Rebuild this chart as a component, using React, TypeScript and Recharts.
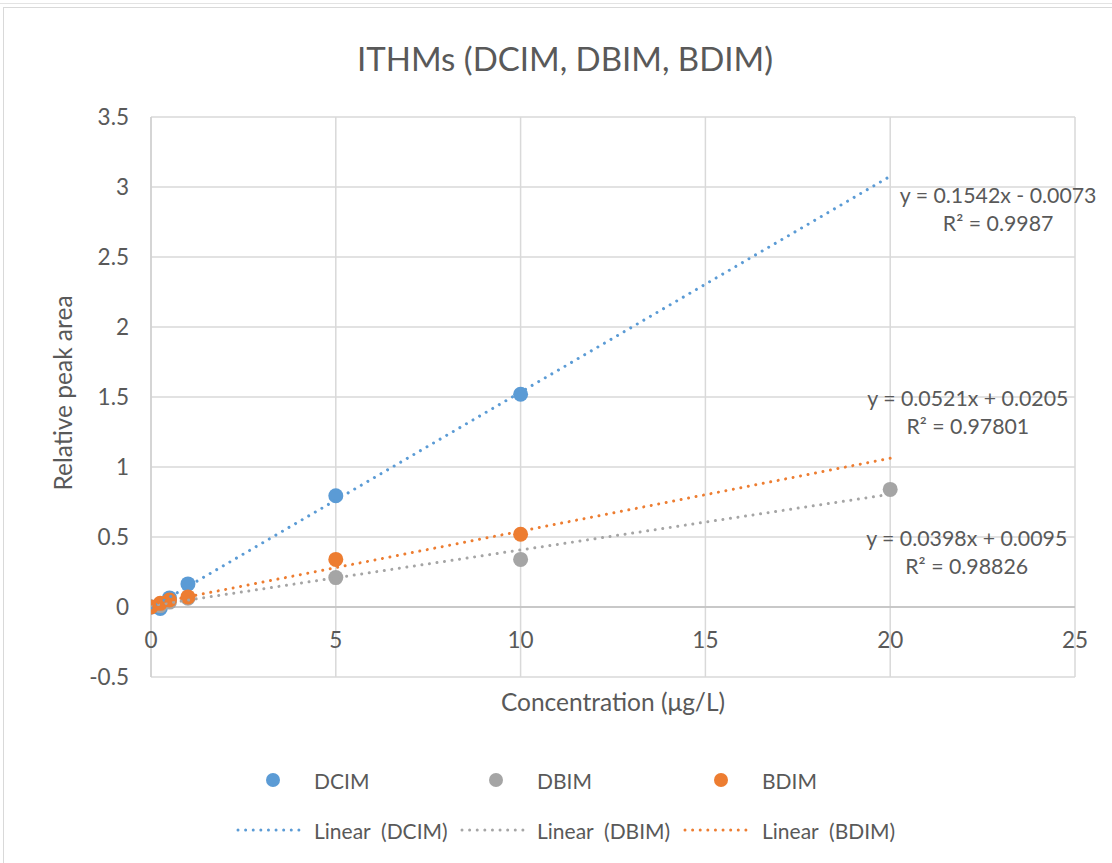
import React from 'react';
import {
  ScatterChart,
  Scatter,
  XAxis,
  YAxis,
  CartesianGrid,
  ReferenceLine,
  ReferenceDot,
} from 'recharts';

// ---- data ----
const SERIES_NAMES = ['DCIM', 'DBIM', 'BDIM'];
const SERIES_COLORS = ['#5B9BD5', '#A5A5A5', '#ED7D31'];

const DCIM_X = [0, 0.25, 0.5, 1, 5, 10];
const DCIM_Y = [0.0, -0.01, 0.065, 0.165, 0.795, 1.52];
const DBIM_X = [0, 0.25, 0.5, 1, 5, 10, 20];
const DBIM_Y = [0.0, 0.01, 0.035, 0.062, 0.21, 0.34, 0.84];
const BDIM_X = [0, 0.25, 0.5, 1, 5, 10];
const BDIM_Y = [0.0, 0.026, 0.05, 0.072, 0.34, 0.52];

// linear fits as printed on the chart
const FIT_SLOPES = [0.1542, 0.0398, 0.0521];
const FIT_INTERCEPTS = [-0.0073, 0.0095, 0.0205];
const FIT_R2 = ['0.9987', '0.98826', '0.97801'];
const FIT_RANGE = [0, 20];
// where each equation label sits (in data units)
const EQ_LABEL_X = [22.92, 22.07, 22.1];
const EQ_LABEL_Y = [2.943, 0.493, 1.493];

const X_TICKS = [0, 5, 10, 15, 20, 25];
const Y_TICKS = [-0.5, 0, 0.5, 1, 1.5, 2, 2.5, 3, 3.5];
const X_DOMAIN: [number, number] = [0, 25];
const Y_DOMAIN: [number, number] = [-0.5, 3.5];

const TITLE = 'ITHMs (DCIM, DBIM, BDIM)';
const X_TITLE = 'Concentration (\u03BCg/L)';
const Y_TITLE = 'Relative peak area';

// ---- layout / style ----
const W = 1112;
const H = 863;
const PLOT_LEFT = 151;
const PLOT_RIGHT = 1075;
const PLOT_TOP = 117;
const PLOT_BOTTOM = 677;
const X_AXIS_H = 50;
const Y_AXIS_W = 110;
const FONT = 'Lato, "Noto Sans", sans-serif';
const TEXT = '#595959';
const GRID = '#D9D9D9';
const TICK_SIZE = 22.5;
const AXIS_TITLE_SIZE = 24.5;

const PLOT_H = PLOT_BOTTOM - PLOT_TOP;
// the category axis crosses the value axis at y = 0
const ZERO_SHIFT = (PLOT_H * (0 - Y_DOMAIN[0])) / (Y_DOMAIN[1] - Y_DOMAIN[0]);

const toPoints = (xs: number[], ys: number[]) => xs.map((x, i) => ({ x, y: ys[i] }));
const SERIES_POINTS = [
  toPoints(DCIM_X, DCIM_Y),
  toPoints(DBIM_X, DBIM_Y),
  toPoints(BDIM_X, BDIM_Y),
];
const FIT_POINTS = FIT_SLOPES.map((m, i) =>
  FIT_RANGE.map((x) => ({ x, y: m * x + FIT_INTERCEPTS[i] }))
);

const fmtEq = (m: number, b: number) =>
  `y = ${m.toFixed(4)}x ${b < 0 ? '-' : '+'} ${Math.abs(b).toFixed(4)}`;

const DOTTED = '0.01 7.6';

const XTick = (props: any) => {
  const { x, y, payload } = props;
  return (
    <text
      x={x}
      y={y - ZERO_SHIFT + 32}
      textAnchor="middle"
      dominantBaseline="central"
      fill={TEXT}
      fontSize={TICK_SIZE}
      fontFamily={FONT}
    >
      {payload.value}
    </text>
  );
};

const XTitle = (props: any) => {
  const vb = props.viewBox;
  return (
    <text
      x={vb.x + vb.width / 2}
      y={vb.y + 24}
      textAnchor="middle"
      dominantBaseline="central"
      fill={TEXT}
      fontSize={AXIS_TITLE_SIZE}
      fontFamily={FONT}
    >
      {X_TITLE}
    </text>
  );
};

const YTitle = (props: any) => {
  const vb = props.viewBox;
  const cx = vb.x + 21;
  const cy = vb.y + vb.height / 2 - 4;
  return (
    <text
      x={cx}
      y={cy}
      transform={`rotate(-90 ${cx} ${cy})`}
      textAnchor="middle"
      dominantBaseline="central"
      fill={TEXT}
      fontSize={AXIS_TITLE_SIZE}
      fontFamily={FONT}
    >
      {Y_TITLE}
    </text>
  );
};

const makeEqLabel = (i: number) => (props: any) => {
  const vb = props.viewBox;
  const cx = vb.x + (vb.width || 0) / 2;
  const cy = vb.y + (vb.height || 0) / 2;
  return (
    <g fill={TEXT} fontSize={21.3} fontFamily={FONT}>
      <text x={cx} y={cy} textAnchor="middle" dominantBaseline="central">
        {fmtEq(FIT_SLOPES[i], FIT_INTERCEPTS[i])}
      </text>
      <text x={cx} y={cy + 28} textAnchor="middle" dominantBaseline="central">
        {`R\u00B2 = ${FIT_R2[i]}`}
      </text>
    </g>
  );
};

const Marker = (color: string) => (p: any) =>
  <circle cx={p.cx} cy={p.cy} r={7.5} fill={color} />;

const NoShape = () => <g />;

// legend columns (dot / sample line start, text start)
const LEG_DOT_X = [273, 496, 721];
const LEG_LINE_X = [238, 462, 685];
const LEG_TEXT_X = [314, 537, 762];
const LEG_ROW1_Y = 780;
const LEG_ROW2_Y = 830;

const LegendBlock = () => (
  <svg
    width={W}
    height={H}
    style={{ position: 'absolute', left: 0, top: 0, pointerEvents: 'none' }}
  >
    <g fontFamily={FONT} fontSize={21} fill={TEXT}>
      {SERIES_NAMES.map((name, i) => (
        <g key={name}>
          <circle cx={LEG_DOT_X[i]} cy={LEG_ROW1_Y} r={7} fill={SERIES_COLORS[i]} />
          <text x={LEG_TEXT_X[i]} y={LEG_ROW1_Y} dominantBaseline="central">
            {name}
          </text>
          <line
            x1={LEG_LINE_X[i]}
            x2={LEG_LINE_X[i] + 64}
            y1={LEG_ROW2_Y}
            y2={LEG_ROW2_Y}
            stroke={SERIES_COLORS[i]}
            strokeWidth={3}
            strokeLinecap="round"
            strokeDasharray={DOTTED}
          />
          <text
            x={LEG_TEXT_X[i]}
            y={LEG_ROW2_Y}
            dominantBaseline="central"
            style={{ whiteSpace: 'pre' }}
          >
            {`Linear  (${name})`}
          </text>
        </g>
      ))}
    </g>
  </svg>
);

export default function App() {
  return (
    <div
      style={{
        position: 'absolute',
        left: 0,
        top: 0,
        width: W,
        height: H,
        overflow: 'hidden',
        background: '#fff',
        fontFamily: FONT,
      }}
    >
      <div
        style={{
          position: 'absolute',
          left: 0,
          top: 3,
          width: W,
          height: 0,
          borderTop: '1px solid #E3E3E3',
        }}
      />
      <div
        style={{
          position: 'absolute',
          left: 3,
          top: 7,
          width: W + 20,
          height: H + 20,
          border: '1px solid #D9D9D9',
        }}
      />
      <div
        style={{
          position: 'absolute',
          left: 0,
          top: 36,
          width: W + 18,
          textAlign: 'center',
          color: TEXT,
          fontSize: 33,
          fontFamily: FONT,
          lineHeight: '44px',
        }}
      >
        {TITLE}
      </div>
      <div style={{ position: 'absolute', left: 0, top: 0 }}>
        <ScatterChart
          width={W}
          height={H}
          margin={{
            top: PLOT_TOP,
            right: W - PLOT_RIGHT,
            bottom: H - PLOT_BOTTOM - X_AXIS_H,
            left: PLOT_LEFT - Y_AXIS_W,
          }}
        >
          <CartesianGrid stroke={GRID} strokeWidth={1.5} />
          <XAxis
            type="number"
            dataKey="x"
            domain={X_DOMAIN}
            ticks={X_TICKS}
            interval={0}
            axisLine={false}
            tickLine={false}
            tickSize={0}
            tickMargin={0}
            height={X_AXIS_H}
            tick={<XTick />}
            label={{ content: <XTitle /> }}
            allowDataOverflow
          />
          <YAxis
            type="number"
            dataKey="y"
            domain={Y_DOMAIN}
            ticks={Y_TICKS}
            interval={0}
            width={Y_AXIS_W}
            axisLine={{ stroke: '#D0D0D0', strokeWidth: 1.5 }}
            tickLine={false}
            tickSize={0}
            tickMargin={22}
            tick={{ fill: TEXT, fontSize: TICK_SIZE, fontFamily: FONT }}
            label={{ content: <YTitle /> }}
            allowDataOverflow
          />
          <ReferenceLine y={0} stroke="#BFBFBF" strokeWidth={1.5} />
          {SERIES_NAMES.map((name, i) => (
            <Scatter
              key={name}
              name={name}
              data={SERIES_POINTS[i]}
              fill={SERIES_COLORS[i]}
              shape={Marker(SERIES_COLORS[i])}
              isAnimationActive={false}
            />
          ))}
          {SERIES_NAMES.map((name, i) => (
            <Scatter
              key={`fit-${name}`}
              name={`Linear (${name})`}
              data={FIT_POINTS[i]}
              line={{
                stroke: SERIES_COLORS[i],
                strokeWidth: 3,
                strokeLinecap: 'round',
                strokeDasharray: DOTTED,
              }}
              lineType="joint"
              shape={NoShape}
              legendType="none"
              isAnimationActive={false}
            />
          ))}
          {SERIES_NAMES.map((name, i) => (
            <ReferenceDot
              key={`eq-${name}`}
              x={EQ_LABEL_X[i]}
              y={EQ_LABEL_Y[i]}
              r={0}
              fill="none"
              stroke="none"
              ifOverflow="visible"
              label={{ content: makeEqLabel(i) }}
            />
          ))}
        </ScatterChart>
      </div>
      <LegendBlock />
    </div>
  );
}
